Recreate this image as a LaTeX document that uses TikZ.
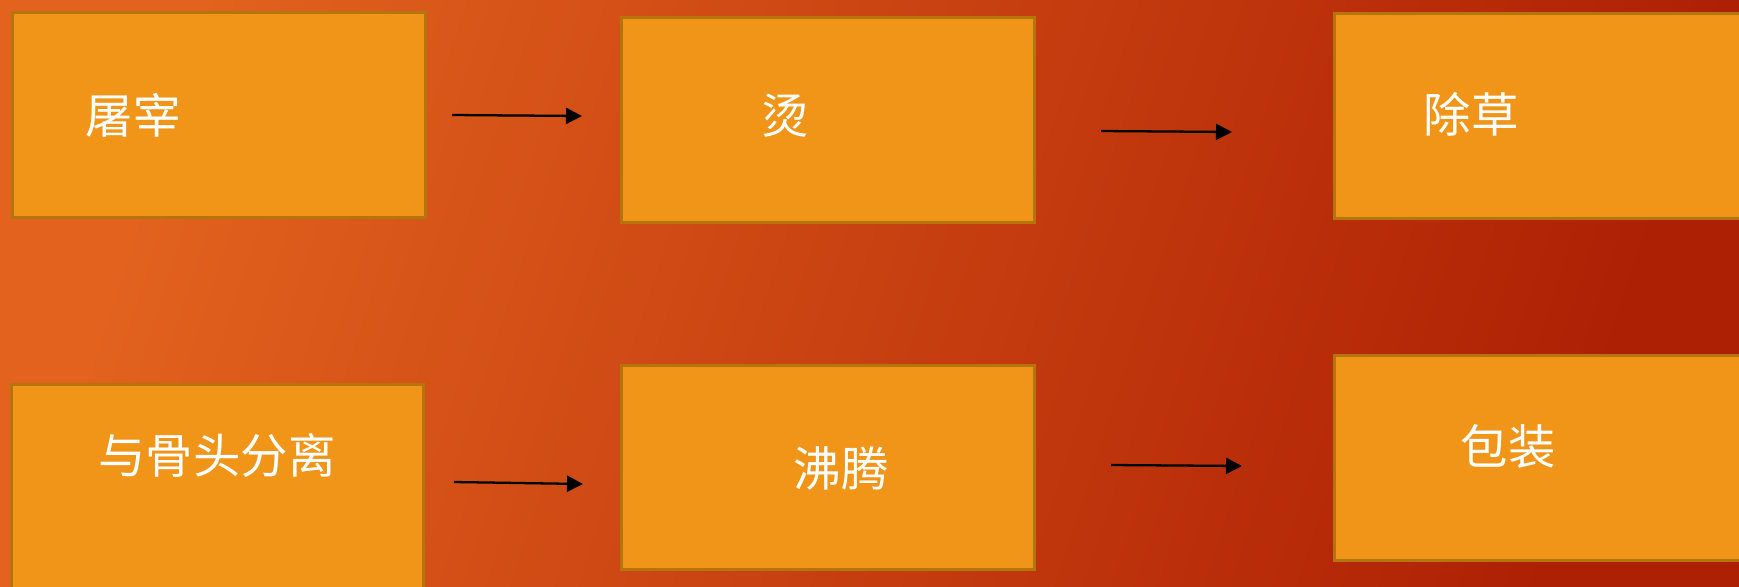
\documentclass[tikz,border=0pt]{standalone}
\usepackage{fontspec}
\newfontfamily\cjk{Noto Sans CJK SC}
\usetikzlibrary{arrows.meta}
\definecolor{bgleft}{HTML}{E2621E}
\definecolor{bgmid}{HTML}{CF4510}
\definecolor{bgright}{HTML}{AE2004}
\definecolor{boxfill}{HTML}{F09518}
\definecolor{boxline}{HTML}{B4760C}

\begin{document}
\begin{tikzpicture}[x=0.02cm,y=-0.02cm,
  >={Triangle[length=0.32cm,width=0.32cm]},
  line width=1.3pt,
  every node/.style={inner sep=0pt},
  stepbox/.style={fill=boxfill,draw=boxline,line width=1.7pt,
    minimum width=8.26cm,minimum height=4.1cm},
  steplabel/.style={text=white,font=\cjk\fontsize{27}{30}\selectfont}]

\useasboundingbox (0,0) rectangle (1739,586);
\shade[left color=bgleft,middle color=bgmid,right color=bgright,
  shading angle=72] (0,0) rectangle (1739,586);

% boxes
\node[stepbox] (slaughter) at (219,115) {};
\node[stepbox] (scald) at (828,120) {};
\node[stepbox] (weed) at (1541,116) {};
\node[stepbox] (debone) at (217.5,487) {};
\node[stepbox] (boil) at (828,467.5) {};
\node[stepbox] (pack) at (1541,458) {};

% texts
\node[steplabel] (slaughterT) at (133,115) {屠宰};
\node[steplabel] (scaldT) at (785,116) {烫};
\node[steplabel] (weedT) at (1471,114) {除草};
\node[steplabel] (deboneT) at (217,455) {与骨头分离};
\node[steplabel] (boilT) at (841,468) {沸腾};
\node[steplabel] (packT) at (1508,446) {包装};

% arrow ends
\coordinate (s1) at (452,115);
\coordinate (e1) at (582,116);
\coordinate (s2) at (1101,131);
\coordinate (e2) at (1232,132);
\coordinate (s3) at (454,482);
\coordinate (e3) at (583,484);
\coordinate (s4) at (1111,465);
\coordinate (e4) at (1242,466);

\path[->]
  (s1) edge (e1)
  (s2) edge (e2)
  (s3) edge (e3)
  (s4) edge (e4);

\end{tikzpicture}
\end{document}
